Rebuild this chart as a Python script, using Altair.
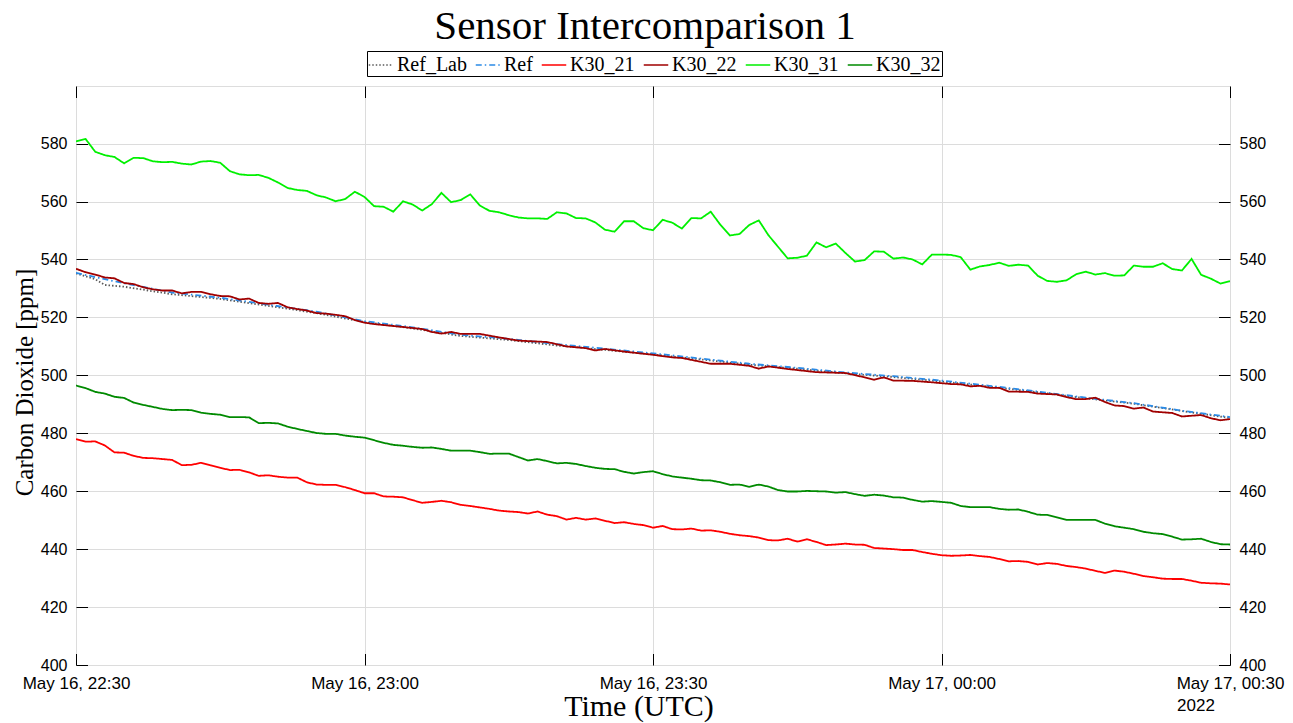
import altair as alt
import pandas as pd

START = "2022-05-16T22:30:00Z"
SERIES = ["Ref_Lab", "Ref", "K30_21", "K30_22", "K30_31", "K30_32"]
COLORS = ["#5a5a5a", "#2b8be6", "#ff0000", "#a00000", "#00f000", "#008a00"]
DASHES = [[1.5, 2], [6, 3, 1.5, 3], [1, 0], [1, 0], [1, 0], [1, 0]]
Y_TICKS = [400, 420, 440, 460, 480, 500, 520, 540, 560, 580]
TITLE = "Sensor Intercomparison 1"
X_TITLE = "Time (UTC)"
Y_TITLE = "Carbon Dioxide [ppm]"
YEAR = "2022"

minutes_full = list(range(121))

k30_31 = [580.8, 581.6, 577.2, 576.0, 575.4, 573.2, 575.1, 575.0, 573.9, 573.6,
          573.7, 573.1, 572.8, 573.8, 574.0, 573.4, 570.5, 569.4, 569.1, 569.2,
          568.2, 566.6, 564.7, 564.0, 563.7, 562.2, 561.4, 560.1, 560.9, 563.4,
          561.6, 558.4, 558.2, 556.5, 560.1, 559.0, 556.9, 559.1, 563.0, 559.8,
          560.5, 562.5, 558.6, 556.8, 556.3, 555.3, 554.5, 554.2, 554.2, 554.0,
          556.3, 555.9, 554.3, 554.2, 552.8, 550.3, 549.6, 553.2, 553.2, 550.8,
          550.1, 553.7, 552.7, 550.7, 554.3, 554.2, 556.5, 552.0, 548.3, 548.8,
          551.9, 553.5, 548.4, 544.4, 540.4, 540.6, 541.3, 545.9, 544.2, 545.5,
          542.3, 539.3, 539.8, 542.8, 542.7, 540.3, 540.7, 540.0, 538.3, 541.7,
          541.7, 541.6, 540.8, 536.5, 537.6, 538.1, 538.9, 537.8, 538.2, 537.9,
          534.4, 532.6, 532.3, 532.8, 534.9, 535.8, 534.8, 535.3, 534.4, 534.5,
          537.9, 537.5, 537.5, 538.7, 536.7, 536.2, 540.2, 534.7, 533.4, 531.7,
          532.5]

k30_21 = [478.0, 477.1, 477.2, 475.8, 473.4, 473.3, 472.2, 471.5, 471.4, 471.1,
          470.8, 469.0, 469.1, 469.8, 468.9, 468.1, 467.3, 467.4, 466.5, 465.3,
          465.5, 465.0, 464.7, 464.7, 463.1, 462.3, 462.2, 462.2, 461.4, 460.4,
          459.3, 459.3, 458.2, 458.1, 457.9, 456.9, 456.0, 456.3, 456.7, 456.2,
          455.3, 454.9, 454.4, 453.9, 453.3, 453.0, 452.8, 452.3, 453.0, 451.9,
          451.4, 450.2, 450.8, 450.2, 450.6, 449.8, 449.0, 449.3, 448.7, 448.3,
          447.4, 448.0, 446.9, 446.8, 447.1, 446.4, 446.5, 446.0, 445.3, 444.8,
          444.5, 444.0, 443.1, 443.0, 443.6, 442.6, 443.4, 442.5, 441.4, 441.6,
          441.9, 441.6, 441.5, 440.4, 440.2, 440.0, 439.7, 439.7, 439.0, 438.4,
          437.9, 437.7, 437.8, 438.0, 437.6, 437.3, 436.6, 435.8, 435.9, 435.6,
          434.7, 435.2, 434.9, 434.2, 433.8, 433.3, 432.5, 431.8, 432.6, 432.2,
          431.5, 430.7, 430.3, 429.8, 429.7, 429.7, 429.1, 428.4, 428.2, 428.1,
          427.8]

k30_32 = [496.5, 495.6, 494.3, 493.7, 492.6, 492.2, 490.6, 489.8, 489.1, 488.4,
          488.0, 488.1, 488.0, 487.1, 486.7, 486.4, 485.6, 485.6, 485.5, 483.5,
          483.6, 483.4, 482.3, 481.5, 480.8, 480.1, 479.8, 479.8, 479.2, 478.8,
          478.5, 477.6, 476.7, 476.0, 475.7, 475.3, 475.0, 475.1, 474.6, 474.0,
          474.0, 474.0, 473.5, 472.9, 473.0, 473.0, 471.8, 470.6, 471.1, 470.4,
          469.6, 469.8, 469.4, 468.7, 468.1, 467.7, 467.6, 466.7, 466.1, 466.6,
          466.9, 465.9, 465.1, 464.7, 464.3, 463.8, 463.7, 463.1, 462.2, 462.3,
          461.5, 462.3, 461.6, 460.4, 459.9, 459.9, 460.1, 460.0, 459.9, 459.5,
          459.7, 459.0, 458.4, 458.8, 458.5, 457.9, 457.8, 457.0, 456.4, 456.6,
          456.3, 456.0, 454.9, 454.5, 454.5, 454.5, 453.9, 453.6, 453.7, 452.9,
          451.9, 451.8, 451.0, 450.1, 450.1, 450.1, 450.1, 448.8, 447.9, 447.4,
          446.9, 446.0, 445.5, 445.2, 444.3, 443.3, 443.4, 443.6, 442.5, 441.7,
          441.6]

k30_22_min = [0, 1, 2, 3, 4, 5, 6, 7, 8, 9, 10, 11, 12, 13, 14, 15, 16, 17, 18, 19,
              20, 21, 22, 23, 24, 25, 26, 27, 28, 29, 30, 31, 34, 36, 37, 38, 39, 40,
              42, 44, 46, 49, 51, 53, 54, 55, 57, 60, 62, 63, 66, 68, 70, 71, 72, 74,
              77, 80, 81, 83, 84, 85, 87, 89, 91, 92, 93, 94, 95, 96, 97, 99, 100,
              102, 103, 104, 105, 106, 107, 108, 109, 110, 111, 112, 114, 115, 117,
              118, 119, 120]
k30_22 = [536.8, 535.6, 534.8, 533.8, 533.5, 531.9, 531.5, 530.4, 529.7, 529.3,
          529.3, 528.3, 528.8, 528.8, 528.0, 527.4, 527.3, 526.2, 526.5, 525.0,
          524.7, 525.0, 523.5, 522.9, 522.4, 521.5, 521.3, 520.9, 520.4, 519.1,
          518.2, 517.7, 516.7, 516.0, 515.0, 514.4, 515.0, 514.3,
          514.3, 513.1, 512.0, 511.5, 510.0, 509.4, 508.6, 509.1, 508.2, 507.1,
          506.2, 506.0, 504.0, 504.0, 503.3, 502.3, 503.1, 502.2,
          501.1, 500.8, 500.1, 498.5, 499.3, 498.2, 498.1, 497.6, 497.0, 496.9,
          496.2, 496.4, 495.7, 495.7, 494.4, 494.3, 493.7,
          493.4, 492.5, 491.8, 491.8, 492.3, 490.8, 489.6, 489.4, 488.5, 488.9,
          487.5, 487.0, 485.8, 486.3, 485.2, 484.5, 484.9]

ref_min = [0, 3, 5, 10, 15, 20, 25, 30, 35, 40, 45, 50, 55, 60, 65, 70, 75, 80,
           85, 90, 95, 100, 105, 110, 115, 120]
ref = [535.4, 533.2, 531.8, 528.6, 526.8, 524.4, 522.0, 518.7, 516.6, 514.0,
       512.6, 510.8, 509.2, 507.6, 505.8, 504.0, 502.6, 501.0, 499.7, 498.2,
       496.4, 494.4, 492.3, 490.4, 487.8, 485.6]

ref_lab_min = [0, 2, 3, 5, 10, 15, 20, 25, 30, 35, 40, 45, 50, 55, 60, 65, 70, 75,
               80, 85, 90, 95, 100, 105, 110, 115, 120]
ref_lab = [535.2, 533.2, 531.2, 530.6, 528.0, 526.4, 524.0, 521.5, 518.4, 516.2,
           513.6, 512.2, 510.3, 508.8, 507.2, 505.5, 503.7, 502.3, 500.7, 499.4,
           497.9, 496.1, 494.2, 492.1, 490.2, 487.7, 485.3]

series_data = [
    ("Ref_Lab", ref_lab_min, ref_lab),
    ("Ref", ref_min, ref),
    ("K30_21", minutes_full, k30_21),
    ("K30_22", k30_22_min, k30_22),
    ("K30_31", minutes_full, k30_31),
    ("K30_32", minutes_full, k30_32),
]

t0 = pd.Timestamp(START)
rows = []
for name, mins, vals in series_data:
    for m, v in zip(mins, vals):
        rows.append({"t": (t0 + pd.Timedelta(minutes=m)).strftime("%Y-%m-%dT%H:%M:%SZ"),
                     "series": name, "value": v})
df = pd.DataFrame(rows)


def dt(d, h, mi):
    return alt.DateTime(year=2022, month=5, date=d, hours=h, minutes=mi, utc=True)


X_TICKS = [dt(16, 22, 30), dt(16, 23, 0), dt(16, 23, 30), dt(17, 0, 0), dt(17, 0, 30)]
xscale = alt.Scale(type="utc", domain=[dt(16, 22, 30), dt(17, 0, 30)])
yscale = alt.Scale(domain=[400, 599.9], nice=False, zero=False)

W, H = 1154, 579
TICK = 11.5
SANS = "Liberation Sans"
SERIF = "Liberation Serif"

legend = alt.Legend(orient="none", legendX=291, legendY=-35, direction="horizontal",
                    title=None, strokeColor="black", fillColor="white", padding=1,
                    labelFont=SERIF, labelFontSize=20, labelColor="black",
                    symbolType="stroke", symbolSize=600, symbolStrokeWidth=1.5,
                    labelOffset=3, columnPadding=5)

base = alt.Chart(df)

lines = base.mark_line(strokeWidth=1.8, clip=True).encode(
    x=alt.X("t:T", scale=xscale,
            axis=alt.Axis(values=X_TICKS, labelExpr="utcFormat(datum.value, '%b %d, %H:%M')",
                          title=None, labelFont=SANS, labelFontSize=17, labelColor="black",
                          labelPadding=10, ticks=False, domain=False, grid=True,
                          gridColor="#dcdcdc", labelOverlap=False, labelFlush=False)),
    y=alt.Y("value:Q", scale=yscale,
            axis=alt.Axis(values=Y_TICKS, title=None, labelFont=SANS, labelFontSize=16,
                          labelColor="black", labelPadding=9, ticks=False, domain=False,
                          grid=True, gridColor="#dcdcdc", orient="left")),
    color=alt.Color("series:N", scale=alt.Scale(domain=SERIES, range=COLORS), legend=legend),
    strokeDash=alt.StrokeDash("series:N", scale=alt.Scale(domain=SERIES, range=DASHES),
                              legend=legend),
    detail="series:N",
)

ghost = base.mark_point(opacity=0)

right_labels = ghost.encode(
    x=alt.X("t:T", scale=xscale,
            axis=alt.Axis(values=X_TICKS, orient="bottom", offset=-TICK, tickSize=TICK,
                          tickColor="black", labels=False, domain=False, grid=False,
                          title=None)),
    y=alt.Y("value:Q", scale=yscale,
            axis=alt.Axis(values=Y_TICKS, orient="right", title=None, labelFont=SANS,
                          labelFontSize=16, labelColor="black", labelPadding=9,
                          ticks=False, domain=False, grid=False)),
)

left_ticks = ghost.encode(
    x=alt.X("t:T", scale=xscale,
            axis=alt.Axis(values=X_TICKS, orient="top", offset=-TICK, tickSize=TICK,
                          tickColor="black", labels=False, domain=False, grid=False,
                          title=None)),
    y=alt.Y("value:Q", scale=yscale,
            axis=alt.Axis(values=Y_TICKS, orient="left", offset=-TICK, tickSize=TICK,
                          tickColor="black", labels=False, domain=False, grid=False,
                          title=None)),
)

right_ticks = ghost.encode(
    x=alt.X("t:T", scale=xscale, axis=None),
    y=alt.Y("value:Q", scale=yscale,
            axis=alt.Axis(values=Y_TICKS, orient="right", offset=-TICK, tickSize=TICK,
                          tickColor="black", labels=False, domain=False, grid=False,
                          title=None)),
)

year_df = pd.DataFrame({"t": ["2022-05-17T00:30:00Z"], "label": [YEAR]})
year_text = alt.Chart(year_df).mark_text(font=SANS, fontSize=17, color="black",
                                         baseline="middle", align="center", dx=-34).encode(
    x=alt.X("t:T", scale=xscale, axis=None),
    y=alt.value(H + 41),
    text="label:N",
)

lbl_df = pd.DataFrame({"label": [TITLE]})
title_text = alt.Chart(lbl_df).mark_text(font=SERIF, fontSize=41, color="black",
                                         baseline="alphabetic", align="center").encode(
    x=alt.value(569), y=alt.value(-47), text="label:N")

xt_df = pd.DataFrame({"label": [X_TITLE]})
xtitle_text = alt.Chart(xt_df).mark_text(font=SERIF, fontSize=30, color="black",
                                         baseline="alphabetic", align="center").encode(
    x=alt.value(563), y=alt.value(H + 51), text="label:N")

yt_df = pd.DataFrame({"label": [Y_TITLE]})
ytitle_text = alt.Chart(yt_df).mark_text(font=SERIF, fontSize=25, color="black",
                                         baseline="middle", align="center", angle=270).encode(
    x=alt.value(-51), y=alt.value(H / 2 + 7), text="label:N")

chart = alt.layer(lines, right_labels, left_ticks, right_ticks, year_text,
                  title_text, xtitle_text, ytitle_text).resolve_scale(
    x="shared", y="shared"
).resolve_axis(x="independent", y="independent").properties(
    width=W, height=H,
    autosize=alt.AutoSizeParams(type="none"),
    padding={"left": 68, "top": 78, "right": 55, "bottom": 58},
).configure_view(stroke="black", strokeWidth=1).configure(background="white")

chart.save("out.html", embed_options={"renderer": "svg", "actions": False})
